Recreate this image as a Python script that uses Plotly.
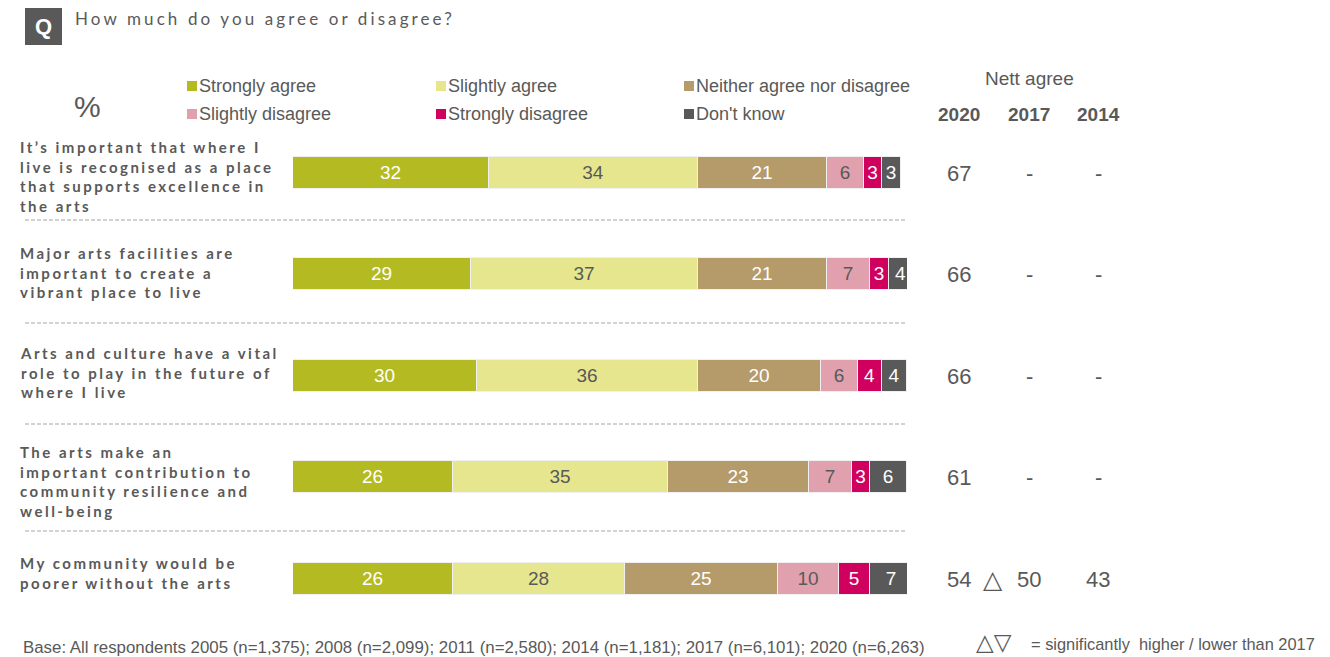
import plotly.graph_objects as go

W, H = 1330, 657

# ---- data -------------------------------------------------------------
statements = [
    "It’s important that where I<br>live is recognised as a place<br>that supports excellence in<br>the arts",
    "Major arts facilities are<br>important to create a<br>vibrant place to live",
    "Arts and culture have a vital<br>role to play in the future of<br>where I live",
    "The arts make an<br>important contribution to<br>community resilience and<br>well-being",
    "My community would be<br>poorer without the arts",
]
responses = ["Strongly agree", "Slightly agree", "Neither agree nor disagree",
             "Slightly disagree", "Strongly disagree", "Don't know"]

strongly_agree = [32, 29, 30, 26, 26]
slightly_agree = [34, 37, 36, 35, 28]
neither = [21, 21, 20, 23, 25]
slightly_disagree = [6, 7, 6, 7, 10]
strongly_disagree = [3, 3, 4, 3, 5]
dont_know = [3, 4, 4, 6, 7]

nett_years = ["2020", "2017", "2014"]
nett_2020 = [67, 66, 66, 61, 54]
nett_2017 = [None, None, None, None, 50]
nett_2014 = [None, None, None, None, 43]
sig_vs_2017 = ["", "", "", "", "higher"]

base_note = ("Base: All respondents 2005 (n=1,375); 2008 (n=2,099); 2011 (n=2,580); "
             "2014 (n=1,181); 2017 (n=6,101); 2020 (n=6,263)")
sig_note = "= significantly  higher / lower than 2017"

# ---- styling ----------------------------------------------------------
colors = ["#B4BA22", "#E6E68E", "#B59A6A", "#E0A0AD", "#D0005F", "#595959"]
text_colors = ["white", "#595959", "white", "#595959", "white", "white"]
GREY = "#595959"
ARIAL = "Arial, Liberation Sans, sans-serif"
LABEL_FONT = "Lato, Carlito, Calibri, sans-serif"
SYMBOL_FONT = "DejaVu Sans, sans-serif"


def fx(p):
    return p / W


def fy(p):
    return 1 - p / H


series = [strongly_agree, slightly_agree, neither,
          slightly_disagree, strongly_disagree, dont_know]
rows = list(range(len(statements)))

fig = go.Figure()
for name, vals, col, tcol in zip(responses, series, colors, text_colors):
    fig.add_trace(go.Bar(
        y=rows, x=vals, name=name, orientation="h",
        marker=dict(color=col, line=dict(color="#f0f0f0", width=1)),
        width=0.315,
        text=[str(v) for v in vals],
        textposition="inside", insidetextanchor="middle",
        constraintext="none",
        textfont=dict(family=ARIAL, size=19, color=tcol),
        hoverinfo="skip", showlegend=False,
    ))

# row pitch in pixels: first bar centre 173, last 579
row_top, row_bot = 173, 579
pitch = (row_bot - row_top) / (len(rows) - 1)
y_top_px = row_top - pitch / 2
y_bot_px = row_bot + pitch / 2

fig.update_layout(
    width=W, height=H, margin=dict(l=0, r=0, t=0, b=0),
    paper_bgcolor="white", plot_bgcolor="white",
    barmode="stack", bargap=0,
    xaxis=dict(domain=[fx(293), fx(907)], range=[0, 100], visible=False, fixedrange=True),
    yaxis=dict(domain=[fy(y_bot_px), fy(y_top_px)], range=[len(rows) - 0.5, -0.5],
               visible=False, fixedrange=True),
    showlegend=False,
)

annotations = []
shapes = []
spaced = {}  # annotation index -> letter spacing (px)


def add_ann(spacing=None, **kw):
    annotations.append(dict(showarrow=False, **kw))
    if spacing is not None:
        spaced[len(annotations) - 1] = spacing


# header "Q" box and question
shapes.append(dict(type="rect", xref="paper", yref="paper",
                   x0=fx(25), x1=fx(62), y0=fy(45), y1=fy(8),
                   fillcolor=GREY, line=dict(width=0)))
add_ann(x=fx(43.5), y=fy(27), xref="paper", yref="paper", text="<b>Q</b>",
        font=dict(family=ARIAL, size=22, color="white"), xanchor="center", yanchor="middle")
add_ann(x=fx(73), y=fy(19), xref="paper", yref="paper",
        text="How much do you agree or disagree?",
        font=dict(family=LABEL_FONT, size=17, color=GREY),
        xanchor="left", yanchor="middle", align="left", spacing=3.1)

# percent sign
add_ann(x=fx(88), y=fy(106), xref="paper", yref="paper", text="%",
        font=dict(family=ARIAL, size=30, color=GREY), xanchor="center", yanchor="middle")

# legend (3 columns x 2 rows)
leg_cols = [187, 436, 684]
leg_rows = [86, 114]
for i, name in enumerate(responses):
    cx = leg_cols[i % 3]
    cy = leg_rows[i // 3]
    shapes.append(dict(type="rect", xref="paper", yref="paper",
                       x0=fx(cx), x1=fx(cx + 10), y0=fy(cy + 5), y1=fy(cy - 5),
                       fillcolor=colors[i], line=dict(width=0)))
    add_ann(x=fx(cx + 10), y=fy(cy), xref="paper", yref="paper", text=name,
            font=dict(family=ARIAL, size=18, color=GREY), xanchor="left", yanchor="middle")

# statement labels
label_centres = [176, 272, 372, 481, 573]
for txt, cy in zip(statements, label_centres):
    add_ann(x=fx(18), y=fy(cy), xref="paper", yref="paper", text=txt,
            font=dict(family=LABEL_FONT, size=15, color=GREY, weight="bold"),
            xanchor="left", yanchor="middle", align="left", spacing=2.5)

# dashed separators
for sy in [220, 323, 424, 531]:
    shapes.append(dict(type="line", xref="paper", yref="paper",
                       x0=fx(25), x1=fx(907), y0=fy(sy), y1=fy(sy),
                       line=dict(color="#A6A6A6", width=1, dash="4px,2px")))

# nett agree table
nett_cols = [959, 1029, 1098]
add_ann(x=fx(1029), y=fy(79), xref="paper", yref="paper", text="Nett agree",
        font=dict(family=ARIAL, size=19, color=GREY), xanchor="center", yanchor="middle")
for yr, cx in zip(nett_years, nett_cols):
    add_ann(x=fx(cx), y=fy(114), xref="paper", yref="paper", text=f"<b>{yr}</b>",
            font=dict(family=ARIAL, size=19, color=GREY), xanchor="center", yanchor="middle")

for col_vals, cx in zip([nett_2020, nett_2017, nett_2014], nett_cols):
    for r, v in zip(rows, col_vals):
        add_ann(x=fx(cx), y=r, xref="paper", yref="y",
                text="-" if v is None else str(v),
                font=dict(family=ARIAL, size=22, color=GREY),
                xanchor="center", yanchor="middle")

for r, s in zip(rows, sig_vs_2017):
    if s:
        add_ann(x=fx(993), y=r, xref="paper", yref="y",
                text="△" if s == "higher" else "▽",
                font=dict(family=SYMBOL_FONT, size=25, color=GREY),
                xanchor="center", yanchor="middle")

# footer
add_ann(x=fx(21), y=fy(647), xref="paper", yref="paper", text=base_note,
        font=dict(family=ARIAL, size=16.85, color=GREY), xanchor="left", yanchor="middle")
add_ann(x=fx(994), y=fy(642), xref="paper", yref="paper", text="△▽",
        font=dict(family=SYMBOL_FONT, size=23, color=GREY),
        xanchor="center", yanchor="middle")
add_ann(x=fx(1029), y=fy(644), xref="paper", yref="paper", text=sig_note,
        font=dict(family=ARIAL, size=16.4, color=GREY), xanchor="left", yanchor="middle")

fig.update_layout(annotations=annotations, shapes=shapes)

css = "".join(
    f'g.annotation[data-index="{i}"] text{{letter-spacing:{sp}px;}}'
    for i, sp in spaced.items()
)
post = ("var s=document.createElement('style');"
        f"s.textContent='{css}';document.head.appendChild(s);")

fig.write_html("out.html", config={"displayModeBar": False}, post_script=post)
